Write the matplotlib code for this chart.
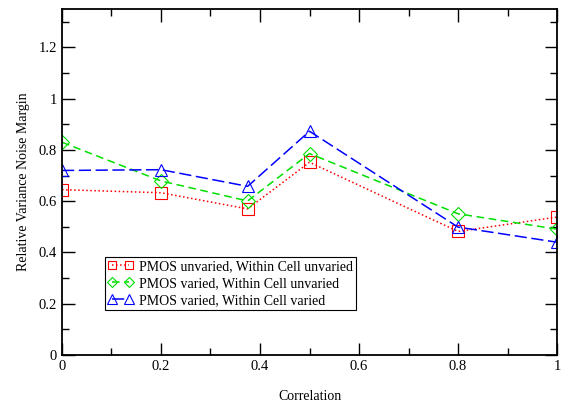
import matplotlib
matplotlib.use('Agg')
import matplotlib.pyplot as plt
from matplotlib.ticker import MultipleLocator

plt.rcParams['font.family'] = ['Liberation Serif', 'DejaVu Serif']

correlation = [0, 0.2, 0.375, 0.5, 0.8, 1.0]
pmos_unv_cell_unv = [0.645, 0.633, 0.570, 0.752, 0.482, 0.538]
pmos_var_cell_unv = [0.830, 0.679, 0.601, 0.786, 0.551, 0.491]
pmos_var_cell_var = [0.720, 0.723, 0.658, 0.873, 0.499, 0.440]

fig = plt.figure(figsize=(5.61, 4.07), dpi=100)
ax = fig.add_axes([0.1105, 0.1278, 0.8824, 0.8501])

ax.plot(correlation, pmos_unv_cell_unv, color='#ff0000', ls=':', lw=1.1,
        marker='s', ms=8, mfc='none', mec='#ff0000', mew=0.8,
        label='PMOS unvaried, Within Cell unvaried')
ax.plot(correlation, pmos_var_cell_unv, color='#00e000', ls=(0, (5, 3)), lw=1.1,
        marker='D', ms=7, mfc='none', mec='#00e000', mew=0.8,
        label='PMOS varied, Within Cell unvaried')
ax.plot(correlation, pmos_var_cell_var, color='#0000ff', ls=(0, (8, 3)), lw=1.1,
        marker='^', ms=9, mfc='none', mec='#0000ff', mew=0.8,
        label='PMOS varied, Within Cell varied')

ax.set_xlim(0, 1)
ax.set_ylim(0, 1.35)
ax.xaxis.set_major_locator(MultipleLocator(0.2))
ax.xaxis.set_minor_locator(MultipleLocator(0.1))
ax.yaxis.set_major_locator(MultipleLocator(0.2))
ax.yaxis.set_minor_locator(MultipleLocator(0.1))
ax.xaxis.set_major_formatter(plt.FuncFormatter(lambda v, p: f'{v:g}'))
ax.yaxis.set_major_formatter(plt.FuncFormatter(lambda v, p: f'{v:g}'))
ax.tick_params(which='both', direction='in', top=True, right=True, labelsize=10.5)
ax.tick_params(which='major', length=9, width=1)
ax.tick_params(which='minor', length=5, width=1)
for s in ax.spines.values():
    s.set_linewidth(1.3)

ax.set_xlabel('Correlation', fontsize=10, labelpad=12)
ax.set_ylabel('Relative Variance Noise Margin', fontsize=10, labelpad=6)

leg = ax.legend(loc='upper left', bbox_to_anchor=(0.087, 0.283), fontsize=10,
                fancybox=False, edgecolor='black', framealpha=1,
                numpoints=2, markerscale=0.75,
                handlelength=1.8, handletextpad=0.45, borderpad=0.2,
                labelspacing=0.3, borderaxespad=0)
leg.get_frame().set_linewidth(0.8)

fig.savefig('out.png', dpi=100)
